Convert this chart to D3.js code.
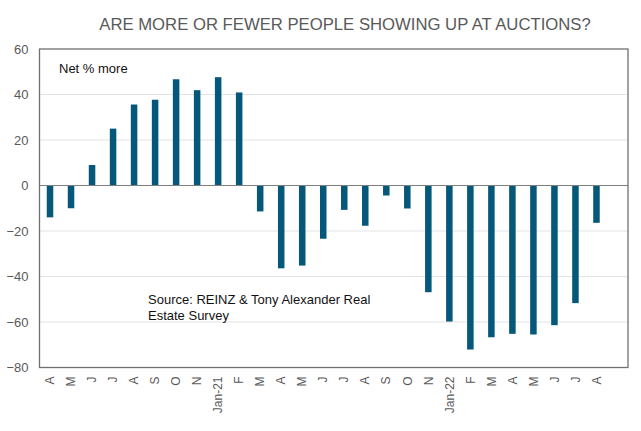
<!DOCTYPE html>
<html><head><meta charset="utf-8">
<script src="https://cdn.jsdelivr.net/npm/d3@7"></script>
<style>body{margin:0;background:#fff}svg{display:block}</style>
</head><body>
<svg id="c" width="641" height="431"></svg>
<script>
const categories = ["A","M","J","J","A","S","O","N","Jan-21","F","M","A","M","J","J","A","S","O","N","Jan-22","F","M","A","M","J","J","A"];
const values = [-14,-10,9,25,35.6,37.7,46.7,41.9,47.6,40.9,-11.4,-36.4,-35.2,-23.4,-10.7,-17.7,-4.4,-10.1,-46.9,-59.8,-72.1,-66.7,-65.2,-65.5,-61.4,-51.7,-16.4];
const yTicks = [60,40,20,0,-20,-40,-60,-80];
const title = "ARE MORE OR FEWER PEOPLE SHOWING UP AT AUCTIONS?";

const svg = d3.select("#c");
const L = 39.5, R = 628, T = 49, B = 367.5;
const step = (R - L) / 28;
const x = d3.scaleBand().domain(d3.range(categories.length)).range([L, L + step * categories.length]).paddingInner(0.69).paddingOuter(0.345);
const y = d3.scaleLinear().domain([-80, 60]).range([B, T]);

// gridlines
svg.append("g").selectAll("line").data(yTicks.filter(d => d !== 60 && d !== -80 && d !== 0)).join("line")
  .attr("x1", L).attr("x2", R).attr("y1", d => y(d)).attr("y2", d => y(d))
  .attr("stroke", "#e3e3e3").attr("stroke-width", 1);

// bars
svg.append("g").selectAll("rect").data(values).join("rect")
  .attr("x", (d, i) => x(i)).attr("width", x.bandwidth())
  .attr("y", d => y(Math.max(0, d))).attr("height", d => Math.abs(y(d) - y(0)))
  .attr("fill", "#05587a");

// zero line
svg.append("line").attr("x1", L).attr("x2", R).attr("y1", y(0)).attr("y2", y(0))
  .attr("stroke", "#7f7f7f").attr("stroke-width", 1);

// frame
svg.append("rect").attr("x", L).attr("y", T).attr("width", R - L).attr("height", B - T)
  .attr("fill", "none").attr("stroke", "#707070").attr("stroke-width", 1.3);

// y axis labels
const yAxis = d3.axisLeft(y).tickValues(yTicks).tickSize(0).tickPadding(11);
const ya = svg.append("g").attr("transform", `translate(${L},0)`).call(yAxis);
ya.select(".domain").remove();
ya.selectAll("text").attr("font-family", "Liberation Sans, Arial, sans-serif").attr("font-size", 13).attr("fill", "#595959");

// x axis labels
const xa = svg.append("g").attr("transform", `translate(0,${B})`)
  .call(d3.axisBottom(x).tickFormat(i => categories[i]).tickSize(0));
xa.select(".domain").remove();
xa.selectAll("text")
  .attr("font-family", "Liberation Sans, Arial, sans-serif").attr("font-size", 12).attr("fill", "#595959")
  .attr("transform", "rotate(-90)").attr("text-anchor", "end")
  .attr("x", -9).attr("y", 0).attr("dy", "0.35em");

// title
svg.append("text").attr("x", 345).attr("y", 30).attr("text-anchor", "middle")
  .attr("font-family", "Liberation Sans, Arial, sans-serif").attr("font-size", 16.7).attr("fill", "#595959")
  .text(title);

// annotations
svg.append("text").attr("x", 59).attr("y", 73)
  .attr("font-family", "Liberation Sans, Arial, sans-serif").attr("font-size", 13).attr("fill", "#111")
  .text("Net % more");
const src = svg.append("text").attr("font-family", "Liberation Sans, Arial, sans-serif").attr("font-size", 13).attr("fill", "#111");
src.append("tspan").attr("x", 148).attr("y", 304).text("Source: REINZ & Tony Alexander Real");
src.append("tspan").attr("x", 148).attr("y", 320).text("Estate Survey");
</script>
</body></html>
